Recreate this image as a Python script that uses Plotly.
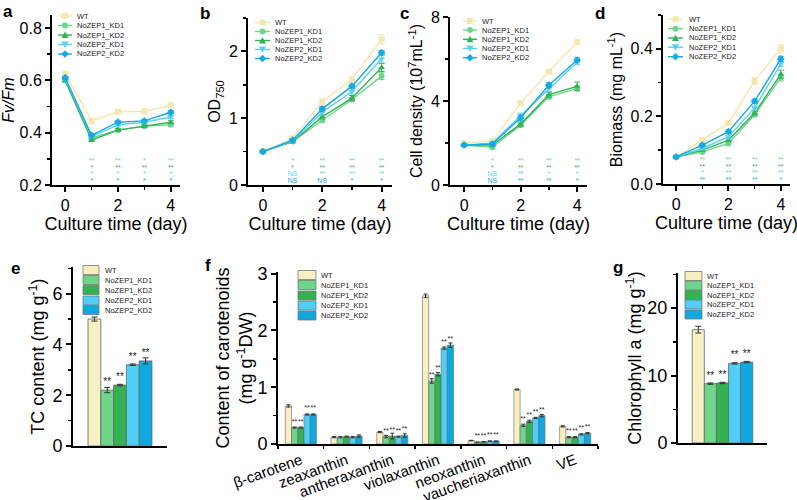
import plotly.graph_objects as go

W, H = 797, 500
FONT = "Liberation Sans, Arial, sans-serif"

# ---------------- data ----------------
days = [0, 1, 2, 3, 4]
strains = ["WT", "NoZEP1_KD1", "NoZEP1_KD2", "NoZEP2_KD1", "NoZEP2_KD2"]
line_colors = ["#F3E8AE", "#6ED68C", "#35B256", "#5BD0F7", "#16A9E2"]
bar_colors = ["#F7F0C2", "#6FD58B", "#35B154", "#4FCEF6", "#0FA8DF"]
symbols = ["square", "circle", "triangle-up", "triangle-down", "diamond"]

fvfm = [
    [0.625, 0.445, 0.480, 0.482, 0.505],
    [0.600, 0.380, 0.410, 0.425, 0.430],
    [0.600, 0.372, 0.410, 0.425, 0.440],
    [0.605, 0.385, 0.430, 0.440, 0.460],
    [0.610, 0.390, 0.440, 0.445, 0.478],
]
fvfm_err = [
    [0.005, 0.005, 0.005, 0.005, 0.008],
    [0.005, 0.005, 0.005, 0.005, 0.006],
    [0.005, 0.006, 0.005, 0.005, 0.006],
    [0.005, 0.005, 0.005, 0.005, 0.006],
    [0.005, 0.005, 0.005, 0.005, 0.006],
]
od750 = [
    [0.50, 0.70, 1.25, 1.58, 2.18],
    [0.50, 0.65, 0.97, 1.28, 1.63],
    [0.50, 0.65, 1.02, 1.30, 1.76],
    [0.50, 0.66, 1.09, 1.40, 1.89],
    [0.50, 0.67, 1.14, 1.48, 1.98],
]
od750_err = [
    [0.02, 0.02, 0.03, 0.04, 0.07],
    [0.02, 0.02, 0.03, 0.03, 0.05],
    [0.02, 0.02, 0.03, 0.04, 0.06],
    [0.02, 0.02, 0.04, 0.04, 0.05],
    [0.02, 0.02, 0.03, 0.03, 0.03],
]
density = [
    [2.00, 2.10, 3.90, 5.40, 6.80],
    [1.90, 1.80, 2.85, 4.20, 4.60],
    [1.90, 1.90, 2.90, 4.30, 4.70],
    [1.90, 2.00, 3.30, 4.60, 5.85],
    [1.90, 1.95, 3.20, 4.75, 5.95],
]
density_err = [
    [0.05, 0.05, 0.08, 0.08, 0.08],
    [0.05, 0.05, 0.10, 0.10, 0.12],
    [0.05, 0.05, 0.10, 0.12, 0.20],
    [0.05, 0.05, 0.12, 0.15, 0.12],
    [0.05, 0.05, 0.12, 0.12, 0.10],
]
biomass = [
    [0.080, 0.130, 0.180, 0.305, 0.400],
    [0.080, 0.095, 0.120, 0.205, 0.315],
    [0.080, 0.100, 0.130, 0.210, 0.325],
    [0.080, 0.105, 0.140, 0.225, 0.355],
    [0.080, 0.115, 0.155, 0.245, 0.370],
]
biomass_err = [
    [0.004, 0.005, 0.005, 0.010, 0.012],
    [0.004, 0.004, 0.005, 0.006, 0.010],
    [0.004, 0.004, 0.005, 0.006, 0.012],
    [0.004, 0.004, 0.005, 0.006, 0.008],
    [0.004, 0.004, 0.005, 0.006, 0.008],
]
# significance labels (rows: NoZEP1_KD1, NoZEP1_KD2, NoZEP2_KD1, NoZEP2_KD2; cols: day 1..4)
sig_days = [1, 2, 3, 4]
sig_a = [["**", "**", "*", "**"], ["*", "**", "**", "**"], ["*", "*", "*", "*"], ["*", "*", "*", "*"]]
sig_b = [["*", "**", "**", "**"], ["*", "**", "**", "**"], ["NS", "**", "**", "**"], ["NS", "NS", "*", "*"]]
sig_c = [["*", "**", "**", "**"], ["*", "**", "**", "**"], ["NS", "**", "*", "*"], ["NS", "**", "**", "*"]]
sig_d = [["**", "**", "**", "**"], ["**", "**", "**", "**"], ["*", "**", "**", "**"], ["**", "**", "**", "*"]]

tc = [5.00, 2.20, 2.40, 3.20, 3.35]
tc_err = [0.08, 0.10, 0.03, 0.03, 0.12]
tc_sig = [None, "**", "**", "**", "**"]

chla = [16.8, 8.8, 8.9, 11.8, 12.0]
chla_err = [0.5, 0.1, 0.1, 0.1, 0.1]
chla_sig = [None, "**", "**", "**", "**"]

pigments = ["β-carotene", "zeaxanthin", "antheraxanthin", "violaxanthin",
            "neoxanthin", "vaucheriaxanthin", "VE"]
carot = [
    [0.67, 0.12, 0.21, 2.61, 0.06, 0.96, 0.31],
    [0.29, 0.12, 0.13, 1.11, 0.03, 0.33, 0.12],
    [0.29, 0.13, 0.14, 1.23, 0.04, 0.40, 0.12],
    [0.52, 0.12, 0.13, 1.69, 0.05, 0.46, 0.17],
    [0.52, 0.14, 0.15, 1.74, 0.05, 0.50, 0.19],
]
carot_err = [
    [0.02, 0.01, 0.01, 0.03, 0.005, 0.01, 0.01],
    [0.01, 0.01, 0.02, 0.04, 0.005, 0.02, 0.01],
    [0.01, 0.01, 0.05, 0.03, 0.005, 0.02, 0.01],
    [0.01, 0.01, 0.01, 0.02, 0.005, 0.01, 0.01],
    [0.01, 0.02, 0.03, 0.04, 0.005, 0.02, 0.01],
]
carot_sig = ["**", None, "**", "**", "**", "**", "**"]

# ---------------- figure ----------------
fig = go.Figure()


def X(px):
    return px / W


def Y(py):
    return 1 - py / H


def add_lines(data, err, sig, n, ymax, ymin):
    xa, ya = "x%s" % ("" if n == 1 else n), "y%s" % ("" if n == 1 else n)
    for i in range(5):
        fig.add_trace(go.Scatter(
            x=days, y=data[i], name=strains[i], mode="lines+markers",
            line=dict(color=line_colors[i], width=1.4),
            marker=dict(symbol=symbols[i], size=6, color=line_colors[i]),
            error_y=dict(type="data", array=err[i], color=line_colors[i], thickness=1, width=3),
            xaxis=xa, yaxis=ya, showlegend=False))
    fracs = [0.14, 0.10, 0.062, 0.024]
    for r in range(4):
        fig.add_trace(go.Scatter(
            x=sig_days, y=[ymin + fracs[r] * (ymax - ymin)] * 4, mode="text",
            text=sig[r], textfont=dict(size=7, color=line_colors[r + 1], family=FONT),
            textposition="middle center", xaxis=xa, yaxis=ya, showlegend=False,
            cliponaxis=False))


add_lines(fvfm, fvfm_err, sig_a, 1, 0.85, 0.2)
add_lines(od750, od750_err, sig_b, 2, 2.5, 0)
add_lines(density, density_err, sig_c, 3, 8, 0)
add_lines(biomass, biomass_err, sig_d, 4, 0.5, 0)


def bar_kwargs(txt, size):
    if txt is None or all(t is None for t in txt):
        return {}
    return dict(text=txt, textposition="outside", textfont=dict(size=size, color="#222", family=FONT))


# bars
for i in range(5):
    fig.add_trace(go.Bar(
        x=["TC"], y=[tc[i]], name=strains[i], marker=dict(color=bar_colors[i], line=dict(color="#666", width=0.8)),
        error_y=dict(type="data", array=[tc_err[i]], color="#333", thickness=1, width=3),
        cliponaxis=False, xaxis="x5", yaxis="y5", showlegend=False, **bar_kwargs([tc_sig[i]], 10)))
for i in range(5):
    fig.add_trace(go.Bar(
        x=pigments, y=carot[i], name=strains[i], marker=dict(color=bar_colors[i], line=dict(color="#666", width=0.6)),
        error_y=dict(type="data", array=carot_err[i], color="#333", thickness=1, width=2),
        cliponaxis=False, xaxis="x6", yaxis="y6", showlegend=False,
        **bar_kwargs(None if i == 0 else carot_sig, 7)))
for i in range(5):
    fig.add_trace(go.Bar(
        x=["Chl"], y=[chla[i]], name=strains[i], marker=dict(color=bar_colors[i], line=dict(color="#666", width=0.8)),
        error_y=dict(type="data", array=[chla_err[i]], color="#333", thickness=1, width=3),
        cliponaxis=False, xaxis="x7", yaxis="y7", showlegend=False, **bar_kwargs([chla_sig[i]], 10)))

# ---------------- axes ----------------
TICKF = dict(size=16, family=FONT, color="black")
TITF = dict(size=16, family=FONT, color="black")
TICKF2 = dict(size=18, family=FONT, color="black")
TITF2 = dict(size=18, family=FONT, color="black")


def yax(dom_y, rng, dtick, mdtick, title, fmt=None, anchor="x", big=False, standoff=4):
    d = dict(domain=dom_y, range=rng, dtick=dtick, tick0=0, showline=True, linecolor="black",
             linewidth=2, ticks="outside", ticklen=5, tickwidth=2, tickcolor="black",
             showgrid=False, zeroline=False, tickfont=TICKF2 if big else TICKF,
             title=dict(text=title, font=TITF2 if big else TITF, standoff=standoff),
             minor=dict(ticks="outside", ticklen=3, tickwidth=1.5, tickcolor="black", dtick=mdtick, showgrid=False),
             anchor=anchor, automargin=False)
    if fmt:
        d["tickformat"] = fmt
    return d


def xline(dom, anchor):
    return dict(domain=dom, range=[-0.5, 4.35], tickvals=[0, 2, 4], showline=True, linecolor="black",
                linewidth=2, ticks="outside", ticklen=5, tickwidth=2, tickcolor="black",
                showgrid=False, zeroline=False, tickfont=TICKF,
                title=dict(text="Culture time (day)", font=dict(size=18, family=FONT, color="black"), standoff=2),
                minor=dict(ticks="outside", ticklen=3, tickwidth=1.5, tickcolor="black", tickvals=[1, 3], showgrid=False),
                anchor=anchor, automargin=False)


def xbar(dom, anchor, labels=False):
    d = dict(domain=dom, showline=True, linecolor="black", linewidth=2, showgrid=False, zeroline=False,
             anchor=anchor, type="category", automargin=False)
    if labels:
        d.update(ticks="outside", tickson="boundaries", ticklen=3, tickwidth=1.5, tickcolor="black",
                 tickangle=-20, tickfont=dict(size=15, family=FONT, color="black"), range=[-0.5, 6.5])
    else:
        d.update(showticklabels=False, ticks="", range=[-0.5, 0.5])
    return d


fig.update_layout(
    xaxis=xline([X(52), X(180)], "y"),
    yaxis=yax([Y(185), Y(15)], [0.2, 0.85], 0.2, 0.1, "<i>Fv/Fm</i>", ".1f", "x"),
    xaxis2=xline([X(248), X(392)], "y2"),
    yaxis2=yax([Y(185), Y(18)], [0, 2.5], 1, 0.5, "OD<sub>750</sub>", None, "x2"),
    xaxis3=xline([X(450), X(587)], "y3"),
    yaxis3=yax([Y(185), Y(17)], [0, 8], 4, 2, "Cell density (10<sup>7</sup>mL<sup>-1</sup>)", None, "x3"),
    xaxis4=xline([X(663), X(790)], "y4"),
    yaxis4=yax([Y(184), Y(15)], [0, 0.5], 0.2, 0.1, "Biomass (mg mL<sup>-1</sup>)", ".1f", "x4"),
    xaxis5=xbar([X(73), X(167)], "y5"),
    yaxis5=yax([Y(446), Y(267)], [0, 7.05], 2, 1, "TC content (mg g<sup>-1</sup>)", None, "x5", True, 3),
    xaxis6=xbar([X(278), X(598)], "y6", labels=True),
    yaxis6=yax([Y(444), Y(272)], [0, 3.03], 1, 0.5, "Content of carotenoids<br>(mg g<sup>-1</sup>DW)", None, "x6", True, 0),
    xaxis7=xbar([X(678), X(767)], "y7"),
    yaxis7=yax([Y(443), Y(273)], [0, 25.2], 10, 5, "Chlorophyll a (mg g<sup>-1</sup>)", None, "x7", True, 1),
    barmode="group", bargap=0.32, bargroupgap=0,
    width=W, height=H, margin=dict(l=0, r=0, t=0, b=0, autoexpand=False),
    plot_bgcolor="white", paper_bgcolor="white", showlegend=False, hovermode=False,
    font=dict(family=FONT, color="black"),
)

# ---------------- custom legends (shapes + annotations) ----------------
shapes = []
annots = []


def marker_shape(sym, cx, cy, color, r=3.0):
    if sym == "circle":
        return dict(type="circle", xref="paper", yref="paper", x0=X(cx - r), x1=X(cx + r),
                    y0=Y(cy + r), y1=Y(cy - r), fillcolor=color, line=dict(width=0))
    if sym == "square":
        pts = [(cx - r, cy - r), (cx + r, cy - r), (cx + r, cy + r), (cx - r, cy + r)]
    elif sym == "triangle-up":
        pts = [(cx, cy - r - 0.5), (cx + r + 0.5, cy + r), (cx - r - 0.5, cy + r)]
    elif sym == "triangle-down":
        pts = [(cx, cy + r + 0.5), (cx + r + 0.5, cy - r), (cx - r - 0.5, cy - r)]
    else:
        pts = [(cx, cy - r - 0.8), (cx + r + 0.8, cy), (cx, cy + r + 0.8), (cx - r - 0.8, cy)]
    path = "M " + " L ".join("%.5f,%.5f" % (X(a), Y(b)) for a, b in pts) + " Z"
    return dict(type="path", xref="paper", yref="paper", path=path, fillcolor=color, line=dict(width=0))


LEGF = dict(size=7.5, family=FONT, color="#222")


def line_legend(x0, x1, tx, rows):
    for i, yy in enumerate(rows):
        shapes.append(dict(type="line", xref="paper", yref="paper", x0=X(x0), x1=X(x1), y0=Y(yy), y1=Y(yy),
                           line=dict(color=line_colors[i], width=1.4)))
        shapes.append(marker_shape(symbols[i], (x0 + x1) / 2, yy, line_colors[i]))
        annots.append(dict(x=X(tx), y=Y(yy), xref="paper", yref="paper", text=strains[i], showarrow=False,
                           xanchor="left", yanchor="middle", font=LEGF))


def bar_legend(x0, x1, tx, rows, h=9):
    for i, yy in enumerate(rows):
        shapes.append(dict(type="rect", xref="paper", yref="paper", x0=X(x0), x1=X(x1),
                           y0=Y(yy + h / 2), y1=Y(yy - h / 2), fillcolor=bar_colors[i],
                           line=dict(color="#777", width=0.8)))
        annots.append(dict(x=X(tx), y=Y(yy), xref="paper", yref="paper", text=strains[i], showarrow=False,
                           xanchor="left", yanchor="middle", font=LEGF))


line_legend(58, 72, 75, [16, 25.5, 35, 44.5, 54])
line_legend(255, 270, 273, [22.5, 31.5, 40.5, 49.5, 58.5])
line_legend(463, 477, 480, [21, 30, 39.3, 48.5, 57.7])
line_legend(668, 683, 687, [19.3, 28.7, 38, 47.3, 56.7])
bar_legend(83, 99, 103, [270, 280, 290, 300.5, 310])
bar_legend(298, 316, 319, [275, 285, 295.5, 305.5, 315.5])
bar_legend(685, 702, 705, [276, 285.5, 295, 304.5, 314.5])

for letter, px, py in [("a", 8, 11), ("b", 205, 13), ("c", 404, 13), ("d", 600, 13),
                       ("e", 16, 268), ("f", 208, 265), ("g", 618, 267)]:
    annots.append(dict(x=X(px), y=Y(py), xref="paper", yref="paper", text="<b>%s</b>" % letter,
                       showarrow=False, xanchor="center", yanchor="middle",
                       font=dict(size=17, family=FONT, color="black")))

fig.update_layout(shapes=shapes, annotations=annots)

fig.write_html("out.html", config={"displayModeBar": False, "staticPlot": True},
               post_script="document.body.style.margin='0';document.body.style.overflow='hidden';")
